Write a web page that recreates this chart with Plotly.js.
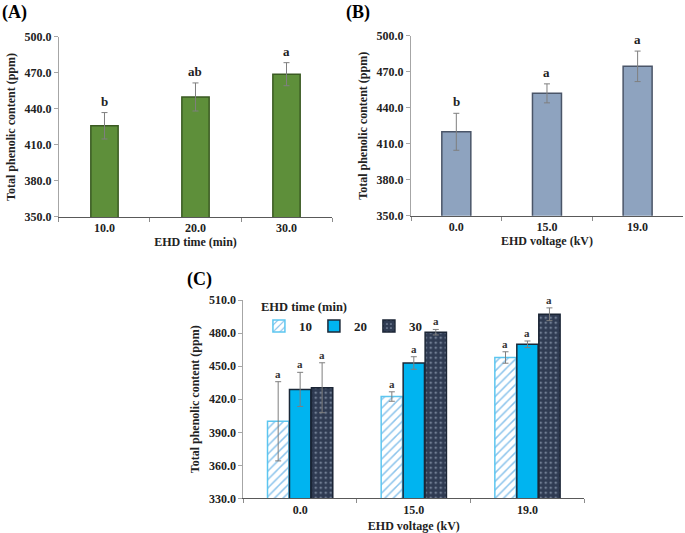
<!DOCTYPE html>
<html>
<head>
<meta charset="utf-8">
<script src="https://cdn.plot.ly/plotly-3.0.1.min.js"></script>
<style>html,body{margin:0;padding:0;background:#fff;}#chart{width:685px;height:533px;}</style>
</head>
<body>
<div id="chart"></div>
<script>
// Panel A: EHD time
const timeCats = ["10.0", "20.0", "30.0"];
const timeMeans = [426, 450, 469];
const timeErr = [11, 11.7, 9.6];
const timeLetters = ["b", "ab", "a"];

// Panel B: EHD voltage
const voltCats = ["0.0", "15.0", "19.0"];
const voltMeans = [420, 452, 474.5];
const voltErr = [15.4, 7.9, 12.7];
const voltLetters = ["b", "a", "a"];

// Panel C: voltage x time
const comboCats = ["0.0", "15.0", "19.0"];
const comboNames = ["10", "20", "30"];
const combo10 = [400, 422.5, 458];
const combo10Err = [36, 4.3, 5.2];
const combo20 = [429, 453, 470];
const combo20Err = [15.5, 5.7, 3];
const combo30 = [430.5, 481, 497.3];
const combo30Err = [22.7, 2.5, 5.8];
const comboLetters = [["a", "a", "a"], ["a", "a", "a"], ["a", "a", "a"]];

const FONT = "'Liberation Serif', 'Times New Roman', serif";
const errStyle = {type: "data", visible: true, color: "#7f7f7f", thickness: 1, width: 3};

const traces = [];
traces.push({
  type: "bar", x: timeCats, y: timeMeans, width: 0.3,
  error_y: Object.assign({array: timeErr}, errStyle),
  marker: {color: "#5e8f3a", line: {color: "#3a5a22", width: 1.5}},
  xaxis: "x", yaxis: "y", showlegend: false
});
traces.push({
  type: "bar", x: voltCats, y: voltMeans, width: 0.32,
  error_y: Object.assign({array: voltErr}, errStyle),
  marker: {color: "#8ea3bf", line: {color: "#4a5568", width: 1.5}},
  xaxis: "x2", yaxis: "y2", showlegend: false
});
const comboVals = [combo10, combo20, combo30];
const comboErrs = [combo10Err, combo20Err, combo30Err];
const comboMarkers = [
  {color: "#ffffff", pattern: {shape: "/", fgcolor: "#8cc4ec", bgcolor: "#ffffff", size: 6, solidity: 0.25}, line: {color: "#5cc6f0", width: 1.5}},
  {color: "#00b4f0", line: {color: "#1b2838", width: 1.5}},
  {color: "#2f3b52", pattern: {shape: ".", fgcolor: "#8d9bb0", bgcolor: "#2f3b52", size: 5, solidity: 0.15}, line: {color: "#1b2535", width: 1.5}}
];
for (let i = 0; i < 3; i++) {
  traces.push({
    type: "bar", name: comboNames[i], x: comboCats, y: comboVals[i],
    error_y: Object.assign({array: comboErrs[i]}, errStyle),
    marker: comboMarkers[i], xaxis: "x3", yaxis: "y3", showlegend: true
  });
}

const annotations = [];
const lblFont = {family: FONT, size: 13, color: "#222", weight: "bold"};
timeCats.forEach((c, i) => annotations.push({
  xref: "x", yref: "y", x: i, y: timeMeans[i] + timeErr[i], text: timeLetters[i],
  showarrow: false, yanchor: "bottom", yshift: 2, font: lblFont
}));
voltCats.forEach((c, i) => annotations.push({
  xref: "x2", yref: "y2", x: i, y: voltMeans[i] + voltErr[i], text: voltLetters[i],
  showarrow: false, yanchor: "bottom", yshift: 2, font: lblFont
}));
for (let s = 0; s < 3; s++) {
  comboCats.forEach((c, i) => annotations.push({
    xref: "x3", yref: "y3", x: i, y: comboVals[s][i] + comboErrs[s][i], text: comboLetters[s][i],
    showarrow: false, yanchor: "bottom", yshift: 0, xshift: (s - 1) * 22,
    font: {family: FONT, size: 11, color: "#333", weight: "bold"}
  }));
}
const panelFont = {family: FONT, size: 18, color: "#000", weight: "bold"};
annotations.push({xref: "paper", yref: "paper", x: 0.0, y: 1.0, xanchor: "left", yanchor: "top", text: "(A)", showarrow: false, font: panelFont});
annotations.push({xref: "paper", yref: "paper", x: 0.502, y: 1.0, xanchor: "left", yanchor: "top", text: "(B)", showarrow: false, font: panelFont});
annotations.push({xref: "paper", yref: "paper", x: 0.27, y: 0.5, xanchor: "left", yanchor: "top", text: "(C)", showarrow: false, font: panelFont});

function yax(domain, range, anchor) {
  return {
    domain: domain, range: range, dtick: 30, tick0: range[0], tickformat: ".1f",
    anchor: anchor, showgrid: false, zeroline: false, showline: true, linecolor: "#a6a6a6", linewidth: 1,
    ticks: "outside", ticklen: 4, tickcolor: "#a6a6a6", automargin: false,
    tickfont: {family: FONT, size: 12, color: "#222", weight: "bold"},
    title: {text: "Total phenolic content (ppm)", standoff: 6, font: {family: FONT, size: 12, color: "#222", weight: "bold"}}
  };
}
function xax(domain, anchor, title, standoff) {
  return {
    domain: domain, anchor: anchor, type: "category", range: [-0.5, 2.5], tickangle: 0,
    showgrid: false, zeroline: false,
    showline: true, linecolor: "#595959", linewidth: 1, ticks: "outside", tickson: "boundaries",
    ticklen: 4, tickcolor: "#8c8c8c", automargin: false,
    tickfont: {family: FONT, size: 12, color: "#222", weight: "bold"},
    title: {text: title, standoff: standoff, font: {family: FONT, size: 12, color: "#222", weight: "bold"}}
  };
}

const layout = {
  width: 685, height: 533, margin: {l: 0, r: 0, t: 0, b: 0},
  paper_bgcolor: "#ffffff", plot_bgcolor: "#ffffff",
  font: {family: FONT, color: "#222", weight: "bold"},
  barmode: "group", bargap: 0.42, bargroupgap: 0.03,
  xaxis: xax([0.0861, 0.4847], "y", "EHD time (min)", 1),
  yaxis: yax([0.593, 0.9306], [350, 500], "x"),
  xaxis2: xax([0.6, 0.997], "y2", "EHD voltage (kV)", 1),
  yaxis2: yax([0.595, 0.933], [350, 500], "x2"),
  xaxis3: xax([0.3552, 0.853], "y3", "EHD voltage (kV)", 5),
  yaxis3: yax([0.0651, 0.4366], [330, 510], "x3"),
  showlegend: true,
  legend: {
    orientation: "h", x: 0.378, y: 0.447, xanchor: "left", yanchor: "top",
    bgcolor: "rgba(0,0,0,0)", itemwidth: 30, entrywidth: 10,
    font: {family: FONT, size: 13, color: "#222", weight: "bold"},
    title: {text: "EHD time (min)", side: "top", font: {family: FONT, size: 12.5, color: "#222", weight: "bold"}}
  },
  annotations: annotations
};

Plotly.newPlot("chart", traces, layout, {staticPlot: true, displayModeBar: false});
</script>
</body>
</html>
